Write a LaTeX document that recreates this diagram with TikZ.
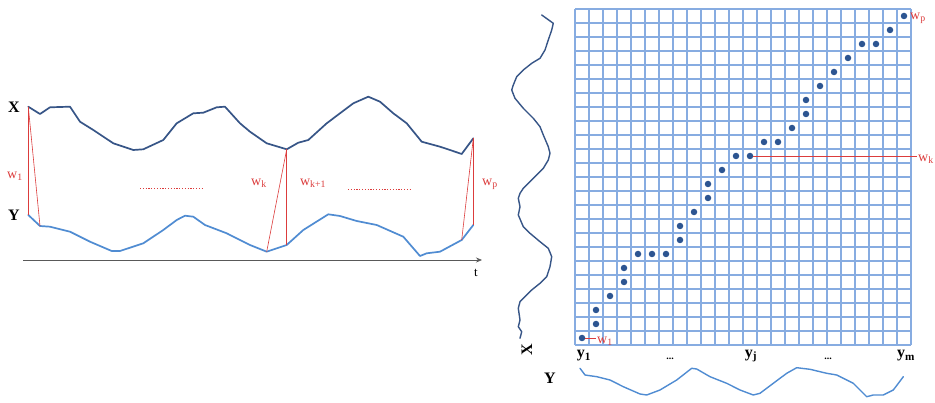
\documentclass[tikz,border=0pt]{standalone}
\usepackage{fontspec}
\setmainfont{Liberation Serif}
\usetikzlibrary{arrows.meta}
\definecolor{xcol}{RGB}{55,85,135}
\definecolor{ycol}{RGB}{80,140,210}
\definecolor{gridblue}{RGB}{135,172,225}
\definecolor{dotcol}{RGB}{45,85,145}
\definecolor{redc}{RGB}{220,60,60}
\tikzset{
  xcurve/.style={draw=xcol,line width=1.7pt,line join=round,line cap=round},
  ycurve/.style={draw=ycol,line width=1.7pt,line join=round,line cap=round},
  warp/.style={draw=redc,line width=0.6pt},
  wlab/.style={text=redc,font=\fontsize{14}{14}\selectfont,inner sep=0pt},
  biglab/.style={font=\fontsize{16}{16}\selectfont\bfseries,inner sep=0pt},
  gridline/.style={draw=gridblue,line width=1.05pt},
  dotnode/.style={circle,fill=dotcol,inner sep=0pt,minimum size=6.5pt},
  dotline/.style={draw=redc,line width=0.9pt,dash pattern=on 1.2pt off 1.6pt},
}
\begin{document}
\begin{tikzpicture}[x=1pt,y=-1pt]
\useasboundingbox (0,0) rectangle (935,403);
\fill[white] (0,0) rectangle (935,403);
% ---------- left panel ----------
\coordinate (x1) at (28.3,106.7);
\coordinate (xk) at (286.7,149.3);
\coordinate (xp) at (473.3,138.3);
\coordinate (y1) at (28.3,215);
\coordinate (y2) at (40,226);
\coordinate (yk) at (266.7,251.7);
\coordinate (yk1) at (286.7,245);
\coordinate (yp1) at (461.7,240);
\coordinate (yp) at (473.3,225);
\draw[xcurve] (x1) -- (40,114) -- (50,107.3) -- (70,106.7) -- (80,121.7) -- (93.3,130) -- (113.3,143.3) -- (133.3,150) -- (143.3,149.3) -- (163.3,140) -- (176.7,123.3) -- (193.3,113.3) -- (203.3,112.7) -- (216.7,107.3) -- (225,106.7) -- (240,123.3) -- (250,131.7) -- (266.7,143.3) -- (xk) -- (298.3,142.7) -- (308.3,140) -- (326.7,123.3) -- (340,113.3) -- (353.3,103.3) -- (368.3,96.7) -- (380,101.7) -- (393.3,113.3) -- (406.7,123.3) -- (421.7,141.7) -- (440,146.7) -- (450,150) -- (461.7,154) -- (xp);
\draw[ycurve] (y1) -- (y2) -- (50,226.7) -- (70,231.7) -- (90,241.7) -- (111.7,251) -- (120,251) -- (143.3,243.3) -- (163.3,230) -- (176.7,220) -- (185,215.7) -- (193.3,216.7) -- (205,225) -- (226.7,233.3) -- (250,245) -- (yk) -- (yk1) -- (303.3,230) -- (328.3,214.3) -- (340,216) -- (356.7,221) -- (376.7,225) -- (403.3,236.7) -- (420,256) -- (426.7,253.3) -- (440,251.7) -- (yp1) -- (yp);
\draw[warp] (x1) -- (y1);
\draw[warp] (x1) -- (y2);
\draw[warp] (xk) -- (yk);
\draw[warp] (xk) -- (yk1);
\draw[warp] (xp) -- (yp);
\draw[warp] (xp) -- (yp1);
\coordinate (ax0) at (23,260);
\coordinate (ax1) at (482,260);
\draw[draw=black!65,line width=0.7pt,-{Stealth[length=6pt,width=5pt]}] (ax0) -- (ax1);
\node[font=\fontsize{13}{13}\selectfont,inner sep=0pt] (tlab) at (476,273) {t};
\node[biglab] (Xl) at (14,107) {X};
\node[biglab] (Yl) at (14,215) {Y};
\node[wlab] (w1l) at (15,176) {w\textsubscript{1}};
\node[wlab] (wkl) at (259,183) {w\textsubscript{k}};
\node[wlab] (wk1l) at (313,183) {w\textsubscript{k+1}};
\node[wlab,anchor=west] (wpl) at (482,184) {w\textsubscript{p}};
\coordinate (da0) at (140,188.5);
\coordinate (da1) at (202,188.5);
\coordinate (db0) at (348,189);
\coordinate (db1) at (410,189);
\draw[dotline] (da0) -- (da1);
\draw[dotline] (db0) -- (db1);
% ---------- right panel ----------
\foreach \i in {0,...,24}{
  \draw[gridline] (575+14*\i,9) -- (575+14*\i,345);
  \draw[gridline] (575,9+14*\i) -- (911,9+14*\i);
}
\foreach \c/\r [count=\n] in {0/0,1/1,1/2,2/3,3/4,3/5,4/6,5/6,6/6,7/7,7/8,8/9,9/10,9/11,10/12,11/13,12/13,13/14,14/14,15/15,16/16,16/17,17/18,18/19,19/20,20/21,21/21,22/22,23/23}{
  \node[dotnode] (d\n) at (582+14*\c,338-14*\r) {};
}
\coordinate (w1end) at (596,338);
\draw[draw=redc,line width=0.8pt] (d1) -- (w1end);
\node[wlab,anchor=west] (w1r) at (597,341) {w\textsubscript{1}};
\coordinate (wkend) at (917,156);
\draw[draw=redc,line width=0.8pt] (d17) -- (wkend);
\node[wlab,anchor=west] (wkr) at (918,159) {w\textsubscript{k}};
\node[wlab,anchor=west] (wpr) at (910,18) {w\textsubscript{p}};
\node[biglab] (ys1) at (584,356) {y\textsubscript{1}};
\node[font=\bfseries\fontsize{10}{10}\selectfont,inner sep=0pt] (dots1) at (670,359) {...};
\node[biglab] (ysj) at (751,356) {y\textsubscript{j}};
\node[font=\bfseries\fontsize{10}{10}\selectfont,inner sep=0pt] (dots2) at (828,359) {...};
\node[biglab] (ysm) at (906,356) {y\textsubscript{m}};
% vertical X series
\draw[xcurve,line width=1.4pt] (541.7,15) -- (553.3,23.3) -- (551.7,30) -- (548.3,40) -- (545,50) -- (540,58.3) -- (531.7,63.3) -- (523.3,70) -- (516.7,76.7) -- (513.3,85) -- (511.7,90) -- (515,98.3) -- (523.3,108.3) -- (533.3,118.3) -- (540,126.7) -- (543.3,135) -- (548.3,146.7) -- (550,153.3) -- (548.3,160) -- (543.3,168.3) -- (536.7,175) -- (530,181.7) -- (523.3,188.3) -- (520,193.3) -- (518.3,198.3) -- (520,206.7) -- (518.3,215) -- (523.3,226.7) -- (530,233.3) -- (540,241.7) -- (548.3,248.3) -- (551.7,256.7) -- (550,266.7) -- (546.7,276.7) -- (540,283.3) -- (531.7,290) -- (525,296.7) -- (520,301.7) -- (518.3,308.3) -- (520,320) -- (518.3,326.7) -- (521.7,331.7) -- (520,338.3);
\node[biglab,rotate=90] (Xr) at (527,350) {X};
\node[biglab] (Yr) at (550,378) {Y};
% bottom Y series
\draw[ycurve,line width=1.4pt] (580,368.3) -- (585,375) -- (596.7,376.7) -- (610,380) -- (623.3,386.7) -- (640,394) -- (646.7,395) -- (660,390) -- (676.7,380) -- (691.7,368.3) -- (696.7,369) -- (710,376.7) -- (726.7,383.3) -- (740,390) -- (753.3,395) -- (760,393.3) -- (773.3,383.3) -- (786.7,373.3) -- (796.7,367.7) -- (810,369.3) -- (826.7,373.3) -- (836.7,375) -- (846.7,380) -- (853.3,383.3) -- (860,390) -- (866.7,396.7) -- (873.3,395) -- (883.3,395) -- (893.3,390) -- (903.3,376.7);
\end{tikzpicture}
\end{document}
